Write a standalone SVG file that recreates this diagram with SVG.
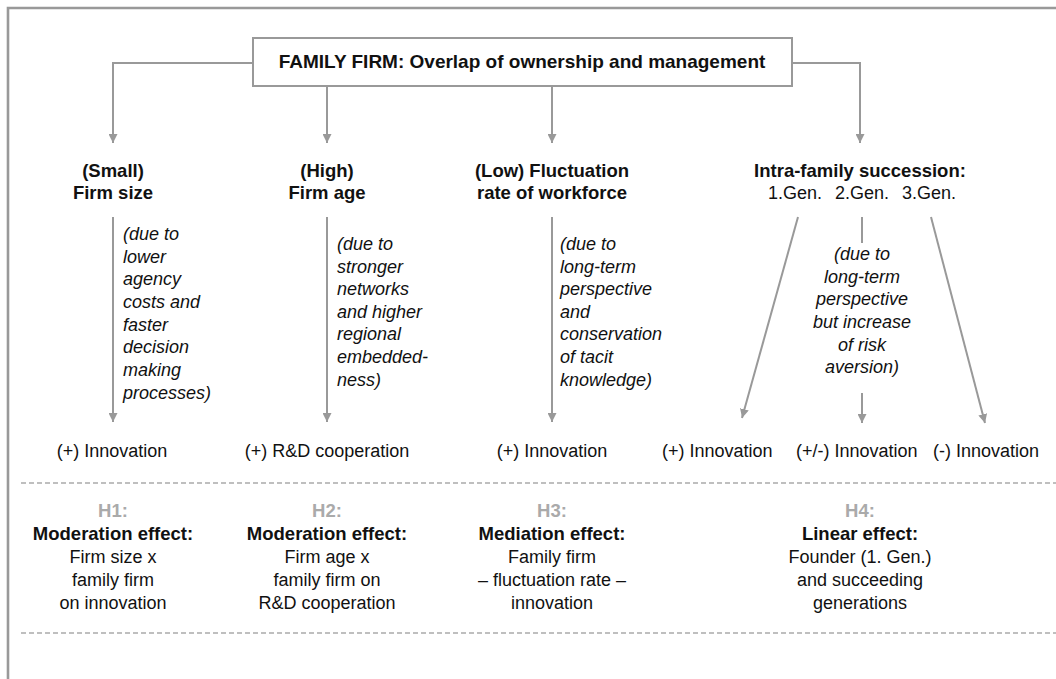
<svg xmlns="http://www.w3.org/2000/svg" width="1056" height="679" viewBox="0 0 1056 679">
<defs>
<marker id="ah" viewBox="0 0 10 10" refX="10" refY="5" markerWidth="9" markerHeight="9" markerUnits="userSpaceOnUse" orient="auto">
<path d="M0,0 L10,5 L0,10 Z" fill="#999"/>
</marker>
<style>
text{font-family:"Liberation Sans",Arial,Helvetica,sans-serif;fill:#111}
.b{font-weight:bold;font-size:18.5px}
.m{text-anchor:middle}
.i{font-style:italic;font-size:18px}
.r{font-size:18px}
.h{font-weight:bold;font-size:18.5px;fill:#aaa}
.c{stroke:#999;stroke-width:2;fill:none}
.a{stroke:#999;stroke-width:2;fill:none;marker-end:url(#ah)}
.d{stroke:#aaa;stroke-width:1.6;stroke-dasharray:5 3;fill:none}
</style>
</defs>
<rect width="1056" height="679" fill="#fff"/>
<path d="M8,679 V8 H1056" stroke="#999" stroke-width="2.6" fill="none"/>

<g id="connectors">
<path class="a" d="M253,63 H113 V143"/>
<path class="a" d="M792,63 H860 V143"/>
<path class="a" d="M327,86 V143"/>
<path class="a" d="M552,86 V143"/>
<path class="a" d="M113,217 V422"/>
<path class="a" d="M327,217 V422"/>
<path class="a" d="M552,217 V422"/>
<path class="a" d="M798,217 L742,418"/>
<path class="c" d="M862,217 V243"/>
<path class="a" d="M862,393 V423"/>
<path class="a" d="M931,217 L985,423"/>
</g>

<g id="root">
<rect x="253" y="38" width="539" height="48" fill="#fff" stroke="#999" stroke-width="2"/>
<text class="b m" x="522" y="68" style="font-size:19px">FAMILY FIRM: Overlap of ownership and management</text>
</g>

<g id="size">
<text class="b m" x="113" y="177">(Small)</text>
<text class="b m" x="113" y="199">Firm size</text>
<text class="i" x="123" y="240">(due to</text>
<text class="i" x="123" y="263">lower</text>
<text class="i" x="123" y="285">agency</text>
<text class="i" x="123" y="308">costs and</text>
<text class="i" x="123" y="331">faster</text>
<text class="i" x="123" y="353">decision</text>
<text class="i" x="123" y="376">making</text>
<text class="i" x="123" y="399">processes)</text>
<text class="r m" x="112" y="457">(+) Innovation</text>
</g>

<g id="age">
<text class="b m" x="327" y="177">(High)</text>
<text class="b m" x="327" y="199">Firm age</text>
<text class="i" x="337" y="250">(due to</text>
<text class="i" x="337" y="273">stronger</text>
<text class="i" x="337" y="295">networks</text>
<text class="i" x="337" y="318">and higher</text>
<text class="i" x="337" y="340">regional</text>
<text class="i" x="337" y="363">embedded-</text>
<text class="i" x="337" y="386">ness)</text>
<text class="r m" x="327" y="457">(+) R&amp;D cooperation</text>
</g>

<g id="fluct">
<text class="b m" x="552" y="177">(Low) Fluctuation</text>
<text class="b m" x="552" y="199">rate of workforce</text>
<text class="i" x="560" y="250">(due to</text>
<text class="i" x="560" y="273">long-term</text>
<text class="i" x="560" y="295">perspective</text>
<text class="i" x="560" y="318">and</text>
<text class="i" x="560" y="340">conservation</text>
<text class="i" x="560" y="363">of tacit</text>
<text class="i" x="560" y="386">knowledge)</text>
<text class="r m" x="552" y="457">(+) Innovation</text>
</g>

<g id="succession">
<text class="b m" x="860" y="177">Intra-family succession:</text>
<text class="r" y="199"><tspan x="768">1.Gen.</tspan><tspan x="835">2.Gen.</tspan><tspan x="902">3.Gen.</tspan></text>
<text class="i m" x="862" y="260">(due to</text>
<text class="i m" x="862" y="283">long-term</text>
<text class="i m" x="862" y="305">perspective</text>
<text class="i m" x="862" y="328">but increase</text>
<text class="i m" x="862" y="351">of risk</text>
<text class="i m" x="862" y="373">aversion)</text>
<text class="r" x="662" y="457">(+) Innovation</text>
<text class="r" x="796" y="457">(+/-) Innovation</text>
<text class="r" x="933" y="457">(-) Innovation</text>
</g>

<g id="separators">
<path class="d" d="M21,483 H1056"/>
<path class="d" d="M21,633 H1056"/>
</g>

<g id="h1">
<text class="h m" x="113" y="517">H1:</text>
<text class="b m" x="113" y="540">Moderation effect:</text>
<text class="r m" x="113" y="563">Firm size x</text>
<text class="r m" x="113" y="586">family firm</text>
<text class="r m" x="113" y="609">on innovation</text>
</g>
<g id="h2">
<text class="h m" x="327" y="517">H2:</text>
<text class="b m" x="327" y="540">Moderation effect:</text>
<text class="r m" x="327" y="563">Firm age x</text>
<text class="r m" x="327" y="586">family firm on</text>
<text class="r m" x="327" y="609">R&amp;D cooperation</text>
</g>
<g id="h3">
<text class="h m" x="552" y="517">H3:</text>
<text class="b m" x="552" y="540">Mediation effect:</text>
<text class="r m" x="552" y="563">Family firm</text>
<text class="r m" x="552" y="586">– fluctuation rate –</text>
<text class="r m" x="552" y="609">innovation</text>
</g>
<g id="h4">
<text class="h m" x="860" y="517">H4:</text>
<text class="b m" x="860" y="540">Linear effect:</text>
<text class="r m" x="860" y="563">Founder (1. Gen.)</text>
<text class="r m" x="860" y="586">and succeeding</text>
<text class="r m" x="860" y="609">generations</text>
</g>
</svg>
